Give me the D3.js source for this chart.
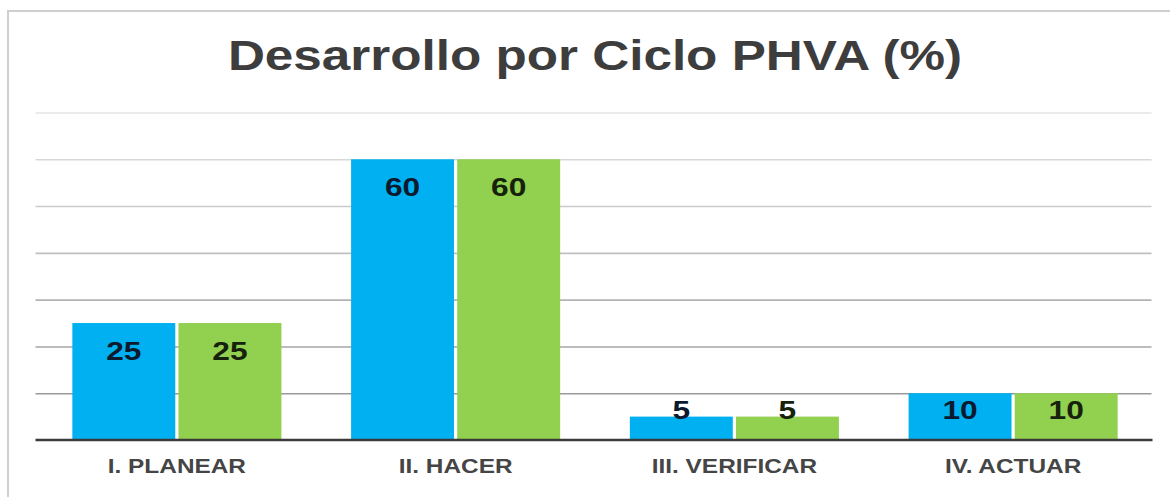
<!DOCTYPE html>
<html>
<head>
<meta charset="utf-8">
<script src="https://cdn.jsdelivr.net/npm/d3@7"></script>
<style>
html,body{margin:0;padding:0;background:#fff;}
svg{display:block;}
text{font-family:"Liberation Sans",Arial,sans-serif;font-weight:bold;}
</style>
</head>
<body>
<svg id="chart" width="1170" height="497"></svg>
<script>
const categories = ["I. PLANEAR", "II. HACER", "III. VERIFICAR", "IV. ACTUAR"];
const seriesNames = ["Serie 1", "Serie 2"];
const serie1 = [25, 60, 5, 10];
const serie2 = [25, 60, 5, 10];
const yTicks = [0, 10, 20, 30, 40, 50, 60, 70];
const title = "Desarrollo por Ciclo PHVA (%)";

const colors = ["#00B0F0", "#92D050"];
const labelColors = ["#0b1a2e", "#16220c"];
const sx = 1.22; // horizontal stretch seen in the reference

const svg = d3.select("#chart");
const W = 1170, H = 497;

// frame
svg.append("rect").attr("x", 8).attr("y", 11).attr("width", W + 20).attr("height", H + 20)
  .attr("fill", "#fff").attr("stroke", "#cfcfcf").attr("stroke-width", 2);

const plot = {left: 37.5, right: 1152.5, top: 112.5, bottom: 440};

const y = d3.scaleLinear().domain([0, 70]).range([plot.bottom, plot.top]);
const x0 = d3.scaleBand().domain(categories).range([plot.left, plot.right])
  .paddingInner(0.25).paddingOuter(0.125);
const x1 = d3.scaleBand().domain(seriesNames).range([0, x0.bandwidth()]).paddingInner(0.03);

const gridColor = d3.scaleLinear().domain([70, 10]).range(["#e4e4e4", "#9a9a9a"]);

// gridlines
const yAxis = d3.axisLeft(y).tickValues(yTicks.filter(t => t > 0)).tickSize(-(plot.right - plot.left + 1)).tickFormat("");
const gGrid = svg.append("g").attr("transform", `translate(${plot.left - 2},0)`).call(yAxis);
gGrid.select(".domain").remove();
gGrid.selectAll(".tick line").attr("stroke", d => gridColor(d)).attr("stroke-width", 1.6);

const data = categories.map((c, i) => ({cat: c, vals: [serie1[i], serie2[i]]}));

const groups = svg.append("g").selectAll("g").data(data).join("g")
  .attr("transform", d => `translate(${x0(d.cat)},0)`);

groups.selectAll("rect").data(d => d.vals.map((v, j) => ({v, s: seriesNames[j], j})))
  .join("rect")
  .attr("x", d => x1(d.s)).attr("width", x1.bandwidth())
  .attr("y", d => y(d.v)).attr("height", d => y(0) - y(d.v))
  .attr("fill", d => colors[d.j]);

groups.selectAll("text").data(d => d.vals.map((v, j) => ({v, s: seriesNames[j], j})))
  .join("text")
  .attr("transform", d => `translate(${x1(d.s) + x1.bandwidth() / 2},${Math.min(y(d.v) + 37, y(0) - 21)}) scale(${sx},1)`)
  .attr("text-anchor", "middle")
  .attr("font-size", 26)
  .attr("fill", d => labelColors[d.j])
  .text(d => d.v);

// baseline
const xAxis = d3.axisBottom(x0).tickSize(0).tickPadding(0);
const gX = svg.append("g").attr("transform", `translate(0,${y(0)})`).call(xAxis);
gX.select(".domain").attr("stroke", "#3a3a3a").attr("stroke-width", 2.5)
  .attr("d", `M${plot.left - 2},0H${plot.right}`);
gX.selectAll(".tick text").remove();
gX.selectAll(".tick").append("text")
  .attr("transform", `translate(0,33) scale(${sx},1)`)
  .attr("text-anchor", "middle")
  .attr("font-size", 20)
  .attr("fill", "#454545")
  .attr("font-family", "'Liberation Sans',Arial,sans-serif")
  .attr("font-weight", "bold")
  .text(d => d);

// title
svg.append("text")
  .attr("transform", `translate(595,70) scale(${sx},1)`)
  .attr("text-anchor", "middle")
  .attr("font-size", 42)
  .attr("fill", "#3d3d3d")
  .text(title);
</script>
</body>
</html>
